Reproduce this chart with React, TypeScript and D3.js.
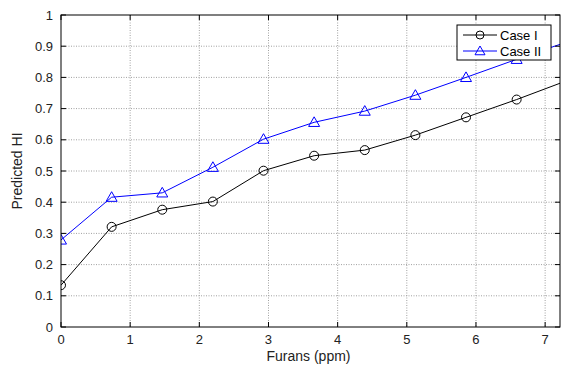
import React from "react";
import * as d3 from "d3";

const xValues = [0, 0.732, 1.464, 2.196, 2.928, 3.66, 4.392, 5.124, 5.856, 6.588, 7.32];
const caseI = [0.134, 0.321, 0.376, 0.402, 0.501, 0.549, 0.567, 0.615, 0.672, 0.729, 0.79];
const caseII = [0.279, 0.416, 0.43, 0.512, 0.602, 0.656, 0.692, 0.743, 0.8, 0.858, 0.914];
const xTicks = [0, 1, 2, 3, 4, 5, 6, 7];
const yTicks = [0, 0.1, 0.2, 0.3, 0.4, 0.5, 0.6, 0.7, 0.8, 0.9, 1];
const seriesNames = ["Case I", "Case II"];

const W = 561, H = 366;
const left = 61, right = 560, top = 15, bottom = 327;

export default function App() {
  const x = d3.scaleLinear().domain([0, 7.215]).range([left, right]);
  const y = d3.scaleLinear().domain([0, 1]).range([bottom, top]);
  const line = d3.line<[number, number]>().x(d => x(d[0])).y(d => y(d[1]));
  const d1 = xValues.map((v, i) => [v, caseI[i]] as [number, number]);
  const d2 = xValues.map((v, i) => [v, caseII[i]] as [number, number]);
  const font = "'Liberation Sans', Arial, sans-serif";
  const tri = (cx: number, cy: number, s = 5.5) =>
    `M${cx},${cy - s} L${cx + s},${cy + s * 0.75} L${cx - s},${cy + s * 0.75} Z`;
  const tl = 5;
  return (
    <svg width={W} height={H} style={{ position: "absolute", left: 0, top: 0, background: "#fff" }}>
      <defs>
        <clipPath id="plot">
          <rect x={left} y={top - 6} width={right - left + 1} height={bottom - top + 12} />
        </clipPath>
        <clipPath id="plotLines">
          <rect x={left} y={top} width={right - left} height={bottom - top} />
        </clipPath>
      </defs>
      <rect x={0} y={0} width={W} height={H} fill="#fff" />
      {/* grid */}
      <g stroke="#a0a0a0" strokeWidth={1} strokeDasharray="1,1.5">
        {xTicks.filter(t => t > 0).map(t => (
          <line key={"gx" + t} x1={x(t)} x2={x(t)} y1={top} y2={bottom} />
        ))}
        {yTicks.filter(t => t > 0 && t < 1).map(t => (
          <line key={"gy" + t} x1={left} x2={right} y1={y(t)} y2={y(t)} />
        ))}
      </g>
      {/* series */}
      <g clipPath="url(#plotLines)">
        <path d={line(d1) || ""} fill="none" stroke="#000" strokeWidth={1} />
        <path d={line(d2) || ""} fill="none" stroke="#0000ff" strokeWidth={1} />
      </g>
      <g clipPath="url(#plot)">
        {d1.map((p, i) => (
          <circle key={"c" + i} cx={x(p[0])} cy={y(p[1])} r={4.5} fill="none" stroke="#000" strokeWidth={1} />
        ))}
        {d2.map((p, i) => (
          <path key={"t" + i} d={tri(x(p[0]), y(p[1]))} fill="none" stroke="#0000ff" strokeWidth={1} />
        ))}
      </g>
      {/* frame */}
      <rect x={left} y={top} width={right - left} height={bottom - top} fill="none" stroke="#000" strokeWidth={1} />
      {/* ticks */}
      <g stroke="#000" strokeWidth={1}>
        {xTicks.map(t => (
          <g key={"tx" + t}>
            <line x1={x(t)} x2={x(t)} y1={bottom} y2={bottom - tl} />
            <line x1={x(t)} x2={x(t)} y1={top} y2={top + tl} />
          </g>
        ))}
        {yTicks.map(t => (
          <g key={"ty" + t}>
            <line x1={left} x2={left + tl} y1={y(t)} y2={y(t)} />
            <line x1={right} x2={right - tl} y1={y(t)} y2={y(t)} />
          </g>
        ))}
      </g>
      <g fontFamily={font} fontSize={13} fill="#222">
        {xTicks.map(t => (
          <text key={"lx" + t} x={x(t)} y={bottom + 17} textAnchor="middle">{t}</text>
        ))}
        {yTicks.map(t => (
          <text key={"ly" + t} x={left - 8} y={y(t) + 4.5} textAnchor="end">{String(t)}</text>
        ))}
        <text x={(left + right) / 2 - 2} y={361} textAnchor="middle" fontSize={14}>Furans (ppm)</text>
        <text transform={`translate(22,${(top + bottom) / 2}) rotate(-90)`} textAnchor="middle" fontSize={14}>Predicted HI</text>
      </g>
      {/* legend */}
      <g>
        <rect x={457} y={25} width={94} height={35} fill="#fff" stroke="#000" strokeWidth={1} />
        <line x1={463} x2={497} y1={35} y2={35} stroke="#000" />
        <circle cx={480} cy={35} r={4} fill="none" stroke="#000" />
        <line x1={463} x2={497} y1={51} y2={51} stroke="#0000ff" />
        <path d={tri(480, 51, 5)} fill="none" stroke="#0000ff" />
        <g fontFamily={font} fontSize={13} fill="#000">
          <text x={500} y={40}>{seriesNames[0]}</text>
          <text x={500} y={56}>{seriesNames[1]}</text>
        </g>
      </g>
    </svg>
  );
}
